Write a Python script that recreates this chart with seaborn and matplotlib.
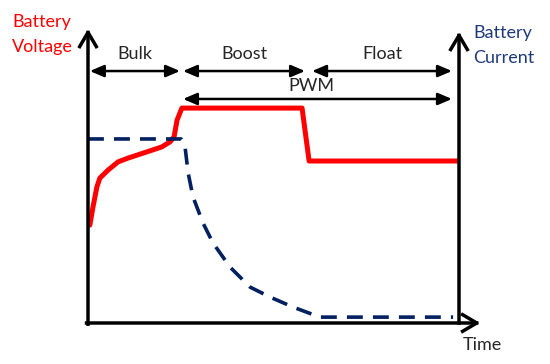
import matplotlib
matplotlib.use("Agg")
import matplotlib.pyplot as plt
import seaborn as sns
import pandas as pd

# ---- data ----
time_v = [0.5, 1.35, 2.4, 3.2, 5.4, 8.1, 10.8, 17.3, 19.9, 22.1, 23.2, 24.0, 25.3, 57.7, 59.6, 100.0]
voltage = [33.3, 39.5, 46.3, 49.3, 52.0, 54.8, 56.1, 58.8, 59.9, 61.6, 63.3, 69.0, 73.1, 73.1, 55.1, 55.1]

time_i = [0.0, 25.1, 26.1, 27.0, 28.3, 31.0, 33.7, 38.3, 43.7, 49.1, 55.3, 62.5, 98.4]
current = [62.6, 62.6, 60.5, 51.0, 42.9, 34.0, 27.2, 19.0, 12.2, 8.8, 5.4, 2.0, 2.0]

phases = ["Bulk", "Boost", "Float"]
phase_start = [0.5, 25.6, 60.4]
phase_end = [24.8, 58.5, 98.1]
pwm_label = "PWM"
pwm_start, pwm_end = 25.6, 98.1

sns.set_theme(style="white")
plt.rcParams['font.family'] = ['Lato', 'DejaVu Sans']

W, H = 550, 364
fig = plt.figure(figsize=(5.5, 3.64), dpi=100)
ax = fig.add_axes([88 / W, (H - 323) / H, (459 - 88) / W, (323 - 29) / H])

dv = pd.DataFrame({"t": time_v, "v": voltage})
di = pd.DataFrame({"t": time_i, "i": current})
sns.lineplot(data=dv, x="t", y="v", ax=ax, color="#FF0000", lw=3.6,
             sort=False, estimator=None, solid_joinstyle="round")
sns.lineplot(data=di, x="t", y="i", ax=ax, color="#002060", lw=2.6,
             sort=False, estimator=None)
ax.lines[-1].set_linestyle((0, (4.4, 2.8)))

ax.set_xlim(0, 100)
ax.set_ylim(0, 100)
ax.set_xticks([])
ax.set_yticks([])
ax.set_xlabel("")
ax.set_ylabel("")
for s in ax.spines.values():
    s.set_visible(False)

# axes arrows
axis_style = dict(arrowstyle="->,head_length=0.85,head_width=0.5", lw=2.5,
                  color="black", shrinkA=0, shrinkB=0, capstyle="projecting")
ax.annotate("", xy=(0, 1.0), xytext=(0, -0.004), xycoords="axes fraction",
            arrowprops=axis_style, annotation_clip=False)
ax.annotate("", xy=(1, 0.99), xytext=(1, 0), xycoords="axes fraction",
            arrowprops=axis_style, annotation_clip=False)
ax.annotate("", xy=(1.057, 0), xytext=(-0.004, 0), xycoords="axes fraction",
            arrowprops=axis_style, annotation_clip=False)

# phase arrows
phase_style = dict(arrowstyle="<|-|>,head_length=0.7,head_width=0.3", lw=1.8,
                   color="black", shrinkA=0, shrinkB=0)
for name, a, b in zip(phases, phase_start, phase_end):
    ax.annotate("", xy=(b, 85.7), xytext=(a, 85.7), arrowprops=phase_style,
                annotation_clip=False)
    ax.text((a + b) / 2, 91.6, name, ha="center", va="center", fontsize=13,
            color="#262626", clip_on=False)
ax.annotate("", xy=(pwm_end, 76.2), xytext=(pwm_start, 76.2), arrowprops=phase_style,
            annotation_clip=False)
ax.text(60.1, 80.5, pwm_label, ha="center", va="center", fontsize=13,
        color="#262626", clip_on=False)

# axis titles
fig.text(12 / W, 1 - 22 / H, "Battery", ha="left", va="center", fontsize=13, color="#FF0000")
fig.text(12 / W, 1 - 47 / H, "Voltage", ha="left", va="center", fontsize=13, color="#FF0000")
fig.text(473 / W, 1 - 33 / H, "Battery", ha="left", va="center", fontsize=13, color="#1F3A78")
fig.text(473 / W, 1 - 58 / H, "Current", ha="left", va="center", fontsize=13, color="#1F3A78")
fig.text(463 / W, 1 - 345 / H, "Time", ha="left", va="center", fontsize=13, color="#262626")

fig.savefig("out.png", dpi=100)
